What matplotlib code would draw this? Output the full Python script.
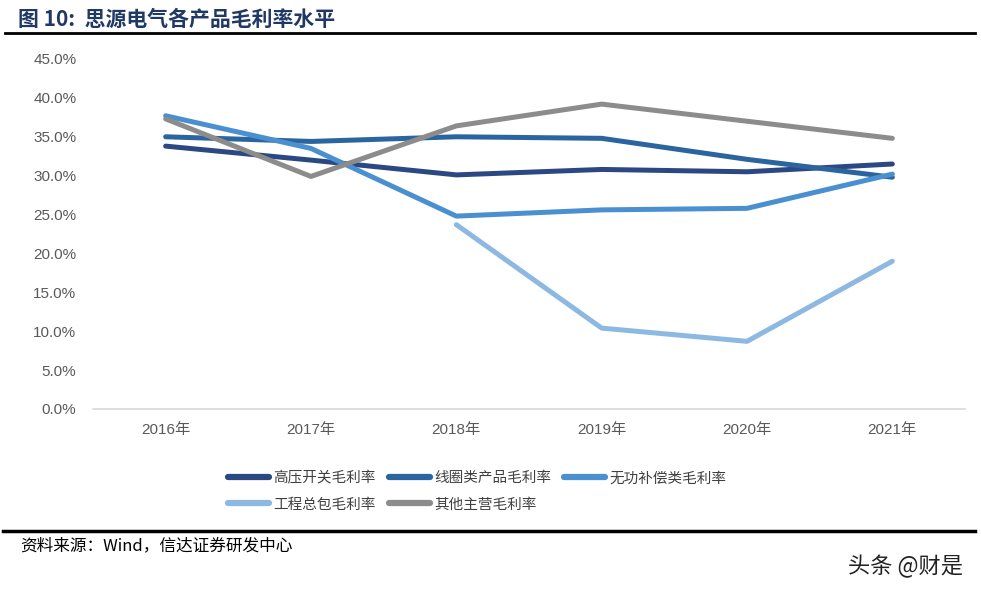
import matplotlib.pyplot as plt
from matplotlib.ticker import PercentFormatter
from matplotlib.lines import Line2D

plt.rcParams['font.family'] = ['Noto Sans CJK SC', 'DejaVu Sans']

years = ['2016年', '2017年', '2018年', '2019年', '2020年', '2021年']
names = ['高压开关毛利率', '线圈类产品毛利率', '无功补偿类毛利率', '工程总包毛利率', '其他主营毛利率']
gaoya = [33.8, 32.0, 30.1, 30.8, 30.5, 31.5]
xianquan = [35.0, 34.4, 35.0, 34.8, 32.1, 29.8]
wugong = [37.7, 33.5, 24.8, 25.6, 25.8, 30.2]
gongcheng = [None, None, 23.7, 10.4, 8.7, 19.0]
qita = [37.3, 29.9, 36.4, 39.2, 37.0, 34.8]
colors = ['#2C4882', '#2B65A0', '#4A8FD0', '#8DB8E2', '#8C8C8C']

series = [gaoya, xianquan, wugong, gongcheng, qita]

fig = plt.figure(figsize=(9.81, 5.97), dpi=100)
ax = fig.add_axes([93/981, 1-409/597, 872/981, 350/597])

x = list(range(len(years)))
for vals, c, n in zip(series, colors, names):
    xs = [i for i, v in zip(x, vals) if v is not None]
    ys = [v for v in vals if v is not None]
    ax.plot(xs, ys, color=c, lw=3.6, solid_capstyle='round', label=n)

tickfont = ['Liberation Sans', 'Noto Sans CJK SC']
ax.set_xlim(-0.5, 5.5)
ax.set_ylim(0, 45)
ax.set_yticks([0, 5, 10, 15, 20, 25, 30, 35, 40, 45])
ax.yaxis.set_major_formatter(PercentFormatter(decimals=1))
ax.set_xticks(x)
ax.set_xticklabels(years)
for lab in ax.get_xticklabels() + ax.get_yticklabels():
    lab.set_family(tickfont)
for s in ['top', 'right', 'left']:
    ax.spines[s].set_visible(False)
ax.spines['bottom'].set_color('#D9D9D9')
ax.spines['bottom'].set_linewidth(1.2)
ax.tick_params(axis='both', length=0, labelsize=11, labelcolor='#595959')
ax.tick_params(axis='y', pad=12)
ax.tick_params(axis='x', pad=10)

# legend fills column by column, so reorder to read row by row
order = [0, 3, 1, 4, 2]
handles = [Line2D([0], [0], color=colors[i], lw=4.5, solid_capstyle='round') for i in order]
labels = [names[i] for i in order]
fig.legend(handles, labels, loc='upper left', bbox_to_anchor=(215/981, 1-458/597),
           ncol=3, frameon=False, handlelength=2.8, handletextpad=0.3,
           columnspacing=0.9, labelspacing=0.85, prop={'size': 10.5},
           labelcolor='#404040')

fig.text(18/981, 1-19/597, '图 10:  思源电气各产品毛利率水平', fontsize=15, fontweight='bold',
         color='#1F3864', va='center', ha='left')
fig.add_artist(Line2D([5/981, 975/981], [1-33/597, 1-33/597], color='black', lw=2))
fig.add_artist(Line2D([3/981, 975/981], [1-531/597, 1-531/597], color='black', lw=2.5))
fig.text(20/981, 1-546/597, '资料来源：Wind，信达证券研发中心', fontsize=12, style='italic',
         color='black', va='center', ha='left')
fig.text(963/981, 1-567/597, '头条 @财是', fontsize=16, color='#222222', va='center', ha='right')

fig.savefig('out.png', dpi=100, facecolor='white')
